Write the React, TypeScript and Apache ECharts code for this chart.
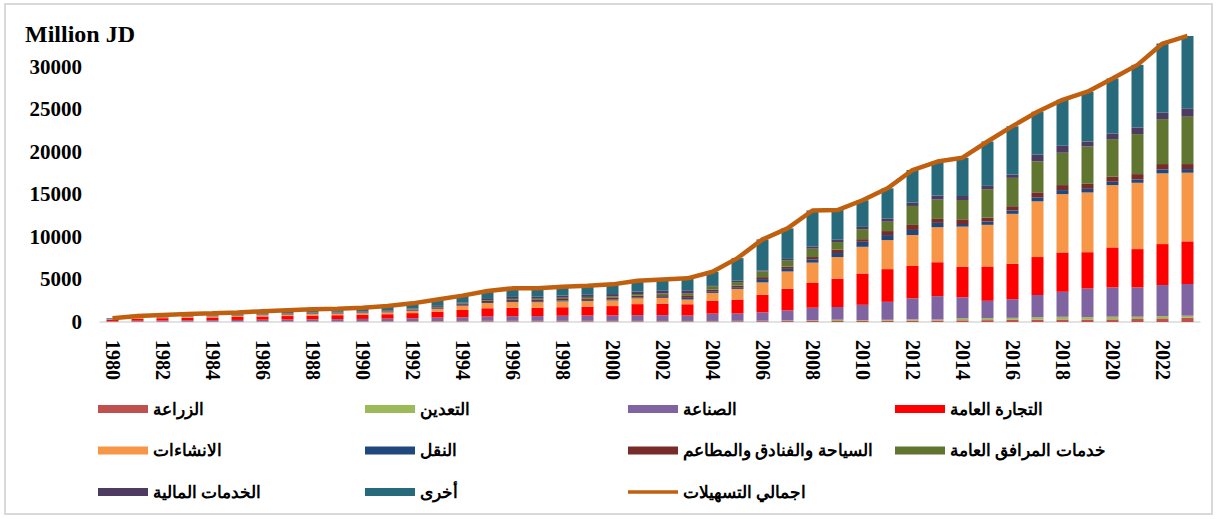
import React, { useEffect, useRef } from "react";
import * as echarts from "echarts";

const years = [
  "1980","1981","1982","1983","1984","1985","1986","1987","1988","1989",
  "1990","1991","1992","1993","1994","1995","1996","1997","1998","1999",
  "2000","2001","2002","2003","2004","2005","2006","2007","2008","2009",
  "2010","2011","2012","2013","2014","2015","2016","2017","2018","2019",
  "2020","2021","2022","2023",
];

const agriculture = [25,35,40,45,45,50,55,55,60,60,60,65,70,75,80,85,85,85,85,85,80,80,80,80,80,90,100,110,120,120,130,140,150,170,200,220,260,280,300,290,310,350,430,510];
const mining = [10,15,18,20,20,22,24,25,27,28,30,32,35,40,45,50,50,50,50,50,50,50,45,45,45,45,50,70,80,150,90,120,160,120,230,230,230,270,310,270,310,270,270,230];
const industry = [60,100,120,140,150,170,190,210,230,250,270,300,340,400,430,500,550,560,600,620,640,670,670,630,860,860,980,1170,1480,1490,1800,2110,2470,2740,2470,2040,2190,2620,2940,3370,3440,3440,3640,3720];
const trade = [150,230,270,300,320,350,380,410,440,460,480,520,600,700,860,980,980,970,1000,1050,1100,1300,1370,1330,1490,1640,2070,2540,2900,3330,3680,3840,3800,3990,3600,4030,4150,4460,4620,4270,4700,4500,4810,5010];
const construction = [60,90,100,115,125,135,150,160,175,180,190,210,250,330,500,620,670,660,680,670,660,680,670,550,940,1250,1450,2040,2390,2540,3130,3410,3640,4110,4700,4890,5870,6540,6850,7010,7320,7790,8300,8060];
const transport = [20,30,35,40,40,45,50,55,60,60,65,70,80,90,100,110,120,120,120,120,120,120,120,200,200,200,390,310,390,470,590,590,590,510,310,390,390,470,470,430,390,390,470,430];
const tourism = [15,25,30,35,35,40,45,50,55,55,60,65,75,90,100,120,150,160,170,180,190,200,200,230,200,200,230,270,270,390,310,470,590,470,550,470,510,590,590,590,590,630,630,590];
const utilities = [10,15,18,20,20,22,25,28,30,30,35,40,45,55,70,90,110,130,150,170,180,190,200,270,390,400,670,700,980,900,1170,1100,2230,2270,2270,3330,3330,3640,3800,4380,4420,4700,5280,5560];
const financial = [20,30,35,40,45,50,55,60,65,70,75,80,90,110,120,150,230,230,240,250,260,280,310,390,120,200,120,200,270,270,270,390,390,470,470,390,390,780,820,590,670,780,740,980];
const other = [80,130,154,185,220,246,276,317,348,377,415,498,605,760,795,935,1005,985,1055,1075,1140,1280,1335,1405,1575,2615,3640,3590,4220,3490,3130,3530,3830,4000,4500,5210,5670,5050,5400,5850,6450,7350,8130,8510];
const totalFacilities = [450,700,820,940,1020,1130,1250,1370,1490,1570,1680,1880,2190,2650,3100,3640,3950,3950,4150,4270,4420,4850,5000,5130,5900,7500,9700,11000,13100,13150,14300,15700,17850,18850,19300,21200,23000,24700,26100,27050,28600,30200,32700,33600];

const barNames = [
  "الزراعة",
  "التعدين",
  "الصناعة",
  "التجارة العامة",
  "الانشاءات",
  "النقل",
  "السياحة والفنادق والمطاعم",
  "خدمات المرافق العامة",
  "الخدمات المالية",
  "أخرى",
];
const lineName = "اجمالي التسهيلات";
const barData = [agriculture, mining, industry, trade, construction, transport, tourism, utilities, financial, other];
const barColors = ["#C0504D", "#9BBB59", "#8064A2", "#FF0000", "#F79646", "#1F497D", "#772C2A", "#5F7530", "#4D3B62", "#276A7C"];
const lineColor = "#C0600F";

const legendColumns = [
  ["الزراعة", "الانشاءات", "الخدمات المالية"],
  ["التعدين", "النقل", "أخرى"],
  ["الصناعة", "السياحة والفنادق والمطاعم", "اجمالي التسهيلات"],
  ["التجارة العامة", "خدمات المرافق العامة"],
];
const legendLefts = [93, 360, 623, 890];

const serif = "'Times New Roman', 'Liberation Serif', 'DejaVu Serif', serif";

export default function App() {
  const ref = useRef<HTMLDivElement>(null);
  useEffect(() => {
    if (!ref.current) return;
    const chart = echarts.init(ref.current, null, { renderer: "svg" });
    const series: any[] = barNames.map((name, i) => ({
      name,
      type: "bar",
      stack: "total",
      barWidth: 12,
      data: barData[i],
      itemStyle: { color: barColors[i] },
    }));
    series.push({
      name: lineName,
      type: "line",
      data: totalFacilities,
      symbol: "none",
      showSymbol: false,
      z: 10,
      lineStyle: { color: lineColor, width: 4.5 },
      itemStyle: { color: lineColor },
    });
    chart.setOption({
      animation: false,
      backgroundColor: "#ffffff",
      graphic: [
        {
          type: "rect",
          shape: { x: 5, y: 4, width: 1207, height: 510 },
          style: { fill: "none", stroke: "#D9D9D9", lineWidth: 2 },
          silent: true,
        },
        {
          type: "text",
          left: 25,
          top: 22,
          style: {
            text: "Million JD",
            font: `bold 24px ${serif}`,
            fill: "#000",
          },
        },
      ],
      grid: { left: 100, right: 17, top: 24, bottom: 197, containLabel: false },
      legend: legendColumns.map((col, i) => ({
        orient: "vertical",
        left: legendLefts[i],
        top: 394,
        itemWidth: 50,
        itemHeight: 8,
        itemGap: 21.5,
        icon: "rect",
        data: col.map((n) =>
          n === lineName ? { name: n, icon: "path://M0,0H46V3H0Z" } : { name: n }
        ),
        textStyle: {
          fontFamily: serif,
          fontWeight: "bold",
          fontSize: 17,
          color: "#000",
          lineHeight: 20,
        },
        selectedMode: false,
      })),
      xAxis: {
        type: "category",
        data: years,
        axisLine: { lineStyle: { color: "#D9D9D9", width: 1.5 } },
        axisTick: { show: false },
        axisLabel: {
          interval: 1,
          rotate: -90,
          margin: 18,
          fontFamily: serif,
          fontWeight: "bold",
          fontSize: 20,
          color: "#000",
        },
      },
      yAxis: {
        type: "value",
        min: 0,
        max: 35000,
        interval: 5000,
        axisLine: { show: false },
        axisTick: { show: false },
        splitLine: { show: false },
        axisLabel: {
          margin: 18,
          fontFamily: serif,
          fontWeight: "bold",
          fontSize: 21,
          color: "#000",
          formatter: (v: number) => (v === 35000 ? "" : String(v)),
        },
      },
      series,
    });
    return () => chart.dispose();
  }, []);
  return (
    <div
      ref={ref}
      style={{ position: "fixed", left: 0, top: 0, width: 1217, height: 519 }}
    />
  );
}
